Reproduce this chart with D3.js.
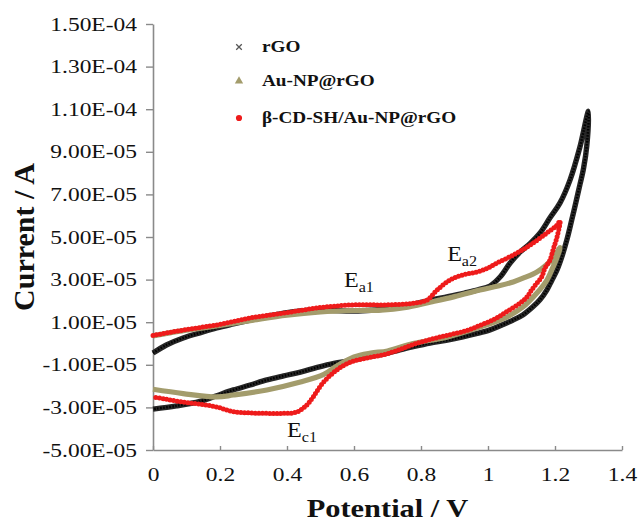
<!DOCTYPE html>
<html><head><meta charset="utf-8">
<script src="https://cdn.jsdelivr.net/npm/d3@7"></script>
<style>body{margin:0;background:#fff} svg{display:block}</style>
</head><body><svg id="c" width="638" height="522"></svg>
<script>
const seriesNames = ["rGO", "Au-NP@rGO", "β-CD-SH/Au-NP@rGO"];
const xTicks = [0, 0.2, 0.4, 0.6, 0.8, 1.0, 1.2, 1.4];
const xTickLabels = ["0", "0.2", "0.4", "0.6", "0.8", "1", "1.2", "1.4"];
const yTicks = [-5e-5, -3e-5, -1e-5, 1e-5, 3e-5, 5e-5, 7e-5, 9e-5, 1.1e-4, 1.3e-4, 1.5e-4];
const yTickLabels = ["-5.00E-05", "-3.00E-05", "-1.00E-05", "1.00E-05", "3.00E-05", "5.00E-05", "7.00E-05", "9.00E-05", "1.10E-04", "1.30E-04", "1.50E-04"];
const UNIT = 1e-5; // currents below are in units of 1e-5 A

// rGO: anodic (forward) and cathodic (reverse) sweeps [potential V, current x1e-5 A]
const rGOForward = [[0.00,-0.45],[0.04,-0.07],[0.09,0.26],[0.14,0.50],[0.19,0.73],[0.24,0.92],[0.29,1.10],[0.34,1.27],[0.39,1.43],[0.44,1.53],[0.49,1.57],[0.54,1.55],[0.59,1.52],[0.64,1.55],[0.69,1.62],[0.74,1.72],[0.78,1.86],[0.83,2.04],[0.88,2.20],[0.93,2.37],[0.97,2.52],[1.006,2.70],[1.036,3.12],[1.066,3.78],[1.096,4.30],[1.126,4.70],[1.156,5.20],[1.185,5.90],[1.215,6.60],[1.245,7.68],[1.274,9.20],[1.30,10.90]];
const rGOReverse = [[1.295,9.30],[1.285,8.20],[1.275,7.50],[1.262,6.60],[1.25,5.80],[1.236,4.90],[1.22,4.05],[1.206,3.45],[1.19,2.95],[1.176,2.52],[1.155,2.05],[1.134,1.72],[1.105,1.35],[1.075,1.10],[1.04,0.86],[1.006,0.64],[0.965,0.46],[0.925,0.31],[0.875,0.15],[0.827,0.02],[0.78,-0.14],[0.73,-0.33],[0.68,-0.52],[0.64,-0.63],[0.59,-0.80],[0.54,-0.93],[0.49,-1.12],[0.44,-1.34],[0.39,-1.52],[0.34,-1.71],[0.29,-1.95],[0.24,-2.18],[0.19,-2.45],[0.14,-2.72],[0.07,-2.93],[0.00,-3.08]];

const auForward = [[0.00,0.36],[0.05,0.50],[0.10,0.62],[0.20,0.85],[0.30,1.10],[0.40,1.33],[0.50,1.48],[0.60,1.55],[0.68,1.57],[0.75,1.68],[0.83,1.95],[0.90,2.20],[0.976,2.51],[1.03,2.70],[1.075,2.89],[1.11,3.10],[1.146,3.36],[1.175,3.70],[1.194,4.01],[1.215,4.50]];
const auReverse = [[1.205,4.00],[1.194,3.59],[1.176,2.98],[1.146,2.37],[1.104,1.71],[1.056,1.24],[0.976,0.77],[0.877,0.30],[0.776,0.00],[0.70,-0.35],[0.65,-0.45],[0.60,-0.63],[0.55,-1.05],[0.51,-1.45],[0.44,-1.81],[0.34,-2.18],[0.24,-2.42],[0.19,-2.51],[0.09,-2.35],[0.00,-2.15]];

const cdForward = [[0.00,0.38],[0.05,0.52],[0.09,0.63],[0.14,0.75],[0.19,0.87],[0.24,1.03],[0.29,1.20],[0.34,1.32],[0.39,1.43],[0.44,1.55],[0.49,1.67],[0.54,1.75],[0.59,1.81],[0.64,1.82],[0.69,1.81],[0.74,1.84],[0.78,1.90],[0.818,2.04],[0.848,2.51],[0.887,2.98],[0.925,3.22],[0.967,3.36],[1.00,3.55],[1.027,3.78],[1.075,4.15],[1.126,4.62],[1.176,5.19],[1.206,5.56],[1.215,5.75]];
const cdReverse = [[1.206,5.00],[1.194,4.39],[1.185,3.92],[1.17,3.54],[1.16,3.12],[1.146,2.84],[1.13,2.51],[1.116,2.18],[1.096,1.90],[1.056,1.50],[1.02,1.15],[0.976,0.85],[0.93,0.58],[0.877,0.38],[0.83,0.20],[0.776,-0.05],[0.737,-0.28],[0.69,-0.52],[0.639,-0.68],[0.59,-0.87],[0.549,-1.24],[0.507,-1.85],[0.478,-2.51],[0.459,-2.89],[0.429,-3.22],[0.39,-3.28],[0.34,-3.28],[0.29,-3.26],[0.239,-3.20],[0.19,-2.98],[0.14,-2.85],[0.09,-2.75],[0.04,-2.62],[0.00,-2.51]];

const annotations = [
  {main: "E", sub: "a1", v: 0.57, c: 2.65},
  {main: "E", sub: "a2", v: 0.878, c: 3.87},
  {main: "E", sub: "c1", v: 0.40, c: -4.39}
];

const svg = d3.select("#c");
const x = d3.scaleLinear().domain([0, 1.4]).range([153, 622]);
const y = d3.scaleLinear().domain([-5e-5, 1.5e-4]).range([450, 24]);
const serif = "'Liberation Serif','Times New Roman',serif";
const axisColor = "#8a8a8a";

// Axes
const gx = svg.append("g").attr("transform", `translate(0,${y(-5e-5)})`)
  .call(d3.axisBottom(x).tickValues(xTicks).tickSizeInner(-4).tickSizeOuter(0)
    .tickFormat((d, i) => xTickLabels[i]));
const gy = svg.append("g").attr("transform", `translate(${x(0)},0)`)
  .call(d3.axisLeft(y).tickValues(yTicks).tickSizeInner(7).tickSizeOuter(0)
    .tickFormat((d, i) => yTickLabels[i]));
[gx, gy].forEach(g => {
  g.select(".domain").attr("stroke", axisColor).attr("stroke-width", 1.6);
  g.selectAll(".tick line").attr("stroke", axisColor).attr("stroke-width", 1.4);
  g.selectAll(".tick text").attr("font-family", serif).attr("font-size", 18.5).attr("fill", "#111");
});
gx.selectAll(".tick text").attr("y", 31).attr("dy", 0).attr("transform", "scale(1.27,1)");
gy.selectAll(".tick text").attr("x", -16 / 1.27).attr("dy", 6).attr("transform", "scale(1.27,1)");

// Axis titles
svg.append("text").attr("transform", `translate(${(x(0) + x(1.4)) / 2},517) scale(1.17,1)`)
  .attr("text-anchor", "middle").attr("font-family", serif).attr("font-weight", "bold")
  .attr("font-size", 26).attr("fill", "#111").text("Potential / V");
svg.append("text").attr("transform", `translate(34,${(y(-5e-5) + y(1.5e-4)) / 2}) rotate(-90)`)
  .attr("text-anchor", "middle").attr("font-family", serif).attr("font-weight", "bold")
  .attr("font-size", 30).attr("fill", "#111").text("Current / A");

// Curves
const line = d3.line().x(d => x(d[0])).y(d => y(d[1] * UNIT)).curve(d3.curveCatmullRom.alpha(0.5));
const plot = svg.append("g");
plot.append("path").attr("d", line(rGOForward.concat(rGOReverse)))
  .attr("fill", "none").attr("stroke", "#262626").attr("stroke-width", 5.4).attr("stroke-linejoin", "round");
plot.append("path").attr("d", line(rGOForward.concat(rGOReverse)))
  .attr("fill", "none").attr("stroke", "#000").attr("stroke-width", 2.4).attr("stroke-dasharray", "1.5 1.5");
plot.append("path").attr("d", line(auForward.concat(auReverse)))
  .attr("fill", "none").attr("stroke", "#a39c6c").attr("stroke-width", 5.2).attr("stroke-linejoin", "round");
plot.append("path").attr("d", line(cdForward.concat(cdReverse)))
  .attr("fill", "none").attr("stroke", "#ee1b1b").attr("stroke-width", 5)
  .attr("stroke-linecap", "round").attr("stroke-dasharray", "0 3.6");

// Legend
const legendColors = ["#555", "#a39c6c", "#ee1b1b"];
const legendSymbols = [d3.symbolX, d3.symbolTriangle, d3.symbolCircle];
const leg = svg.append("g");
seriesNames.forEach((name, i) => {
  const ly = [47, 81, 118][i];
  const sym = d3.symbol().type(legendSymbols[i]).size(i === 0 ? 22 : 30);
  const p = leg.append("path").attr("d", sym()).attr("transform", `translate(239,${ly})`);
  if (i === 0) p.attr("fill", "none").attr("stroke", legendColors[i]).attr("stroke-width", 1.3);
  else p.attr("fill", legendColors[i]);
  leg.append("text").attr("transform", `translate(262,${ly + 5}) scale(1.2,1)`)
    .attr("font-family", serif).attr("font-weight", "bold").attr("font-size", 16)
    .attr("fill", "#111").text(name);
});

// Peak annotations
annotations.forEach(a => {
  const t = svg.append("text").attr("transform", `translate(${x(a.v)},${y(a.c * UNIT)}) scale(1.15,1)`)
    .attr("font-family", serif).attr("font-size", 21).attr("fill", "#111");
  t.append("tspan").text(a.main);
  t.append("tspan").attr("font-size", 14).attr("dy", 5).text(a.sub);
});
</script></body></html>
